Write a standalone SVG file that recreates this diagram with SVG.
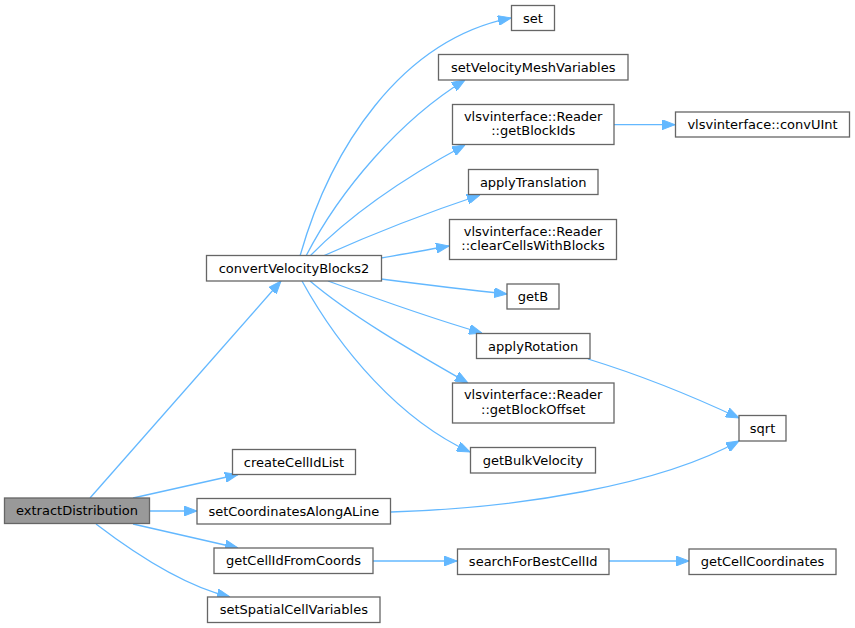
<svg xmlns="http://www.w3.org/2000/svg" width="855" height="628" viewBox="0 0 855 628">
<style>
.n rect{fill:#fff;stroke:#666;stroke-width:1.3}
.n.h rect{fill:#999}
.n text{font-family:"DejaVu Sans",sans-serif;font-size:13px;fill:#000;text-anchor:middle}
.e path{fill:none;stroke:#63b8ff;stroke-width:1.3;marker-end:url(#a)}
</style>
<defs>
<marker id="a" markerUnits="userSpaceOnUse" viewBox="0 0 13 10" refX="13" refY="5" markerWidth="13" markerHeight="10" orient="auto">
<path d="M0,0 L13,5 L0,10 z" fill="#63b8ff" stroke="#63b8ff"/>
</marker>
</defs>
<rect width="855" height="628" fill="#fff"/>
<g id="edges" class="e">
<path d="M300,256 C330,150 400,40 511,18"/>
<path d="M306,256 C340,190 400,120 465,80"/>
<path d="M310,256 C350,215 400,180 465,145"/>
<path d="M323,256 C370,235 420,215 480,195"/>
<path d="M381,258 C400,255 420,251 449,246"/>
<path d="M381,279 C420,284 460,289 507,294"/>
<path d="M328,281 C380,300 430,318 482,333"/>
<path d="M310,281 C350,315 410,350 468,383"/>
<path d="M302,281 C340,350 400,420 470,452"/>
<path d="M614,124.7 L675,124.7"/>
<path d="M588,359 C640,375 690,395 739,418"/>
<path d="M90,498 L281,281"/>
<path d="M133,498 L238,474.5"/>
<path d="M149.5,511 L197,511"/>
<path d="M133,524 L238,548"/>
<path d="M96,524 C130,550 180,585 230,597"/>
<path d="M391,512 C520,508 660,485 739,441"/>
<path d="M373,561 L457,561"/>
<path d="M609,561 L689,561"/>
</g>
<g id="extractDistribution" class="n h"><rect x="4.5" y="498" width="145" height="25.5"/><text x="77" y="515.3">extractDistribution</text></g>
<g id="convertVelocityBlocks2" class="n"><rect x="206.5" y="255.5" width="175" height="25.5"/><text x="294" y="272.8">convertVelocityBlocks2</text></g>
<g id="set" class="n"><rect x="511.5" y="5.5" width="43" height="25"/><text x="533" y="22.5">set</text></g>
<g id="setVelocityMeshVariables" class="n"><rect x="438.5" y="54.5" width="189.5" height="25.5"/><text x="533.2" y="71.8">setVelocityMeshVariables</text></g>
<g id="getBlockIds" class="n"><rect x="452.5" y="104.5" width="161.5" height="40"/><text x="533.2" y="120.8">vlsvinterface::Reader</text><text x="533.2" y="135.2">::getBlockIds</text></g>
<g id="convUInt" class="n"><rect x="675.5" y="112" width="174" height="25"/><text x="762.5" y="129">vlsvinterface::convUInt</text></g>
<g id="applyTranslation" class="n"><rect x="468.5" y="169.5" width="129.5" height="25"/><text x="533.2" y="186.5">applyTranslation</text></g>
<g id="clearCellsWithBlocks" class="n"><rect x="449.5" y="219.5" width="167" height="40"/><text x="533" y="235.8">vlsvinterface::Reader</text><text x="533" y="250.2">::clearCellsWithBlocks</text></g>
<g id="getB" class="n"><rect x="507" y="284" width="52" height="25"/><text x="533" y="301">getB</text></g>
<g id="applyRotation" class="n"><rect x="476.5" y="333.5" width="113.5" height="25"/><text x="533.2" y="350.5">applyRotation</text></g>
<g id="getBlockOffset" class="n"><rect x="452.5" y="383" width="161.5" height="40"/><text x="533.2" y="399.3">vlsvinterface::Reader</text><text x="533.2" y="413.7">::getBlockOffset</text></g>
<g id="getBulkVelocity" class="n"><rect x="470.5" y="447.5" width="125" height="25.5"/><text x="533" y="464.8">getBulkVelocity</text></g>
<g id="sqrt" class="n"><rect x="739" y="415.5" width="47" height="25.5"/><text x="762.5" y="432.8">sqrt</text></g>
<g id="createCellIdList" class="n"><rect x="232.5" y="449.5" width="123" height="25"/><text x="294" y="466.5">createCellIdList</text></g>
<g id="setCoordinatesAlongALine" class="n"><rect x="197" y="498.5" width="193.5" height="25.5"/><text x="293.8" y="515.8">setCoordinatesAlongALine</text></g>
<g id="getCellIdFromCoords" class="n"><rect x="214" y="548" width="159" height="25.5"/><text x="293.5" y="565.3">getCellIdFromCoords</text></g>
<g id="setSpatialCellVariables" class="n"><rect x="207.5" y="597" width="172.5" height="25.5"/><text x="293.8" y="614.3">setSpatialCellVariables</text></g>
<g id="searchForBestCellId" class="n"><rect x="457.5" y="549" width="151.5" height="25.5"/><text x="533.2" y="566.3">searchForBestCellId</text></g>
<g id="getCellCoordinates" class="n"><rect x="689" y="549" width="147" height="25.5"/><text x="762.5" y="566.3">getCellCoordinates</text></g>
</svg>
